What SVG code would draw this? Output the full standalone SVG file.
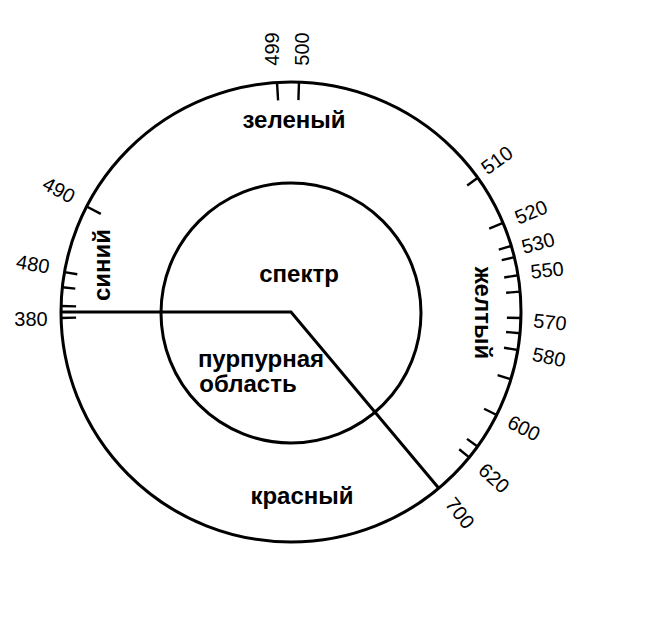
<svg xmlns="http://www.w3.org/2000/svg" width="650" height="643" viewBox="0 0 650 643">
<style>
.c{fill:none;stroke:#000;stroke-width:3}
.t{stroke:#000;stroke-width:2.4;stroke-linecap:butt}
.n{font-family:"Liberation Sans",Arial,sans-serif;font-size:20px;fill:#000;text-anchor:middle;dominant-baseline:central}
.b{font-family:"Liberation Sans",Arial,sans-serif;font-size:24px;font-weight:bold;fill:#000;text-anchor:middle}
</style>
<rect width="650" height="643" fill="#fff"/>
<g id="outer-circle"><circle class="c" cx="291" cy="312" r="230"/></g>
<g id="inner-circle"><circle class="c" cx="291" cy="313" r="130"/></g>
<g id="connectors">
<polyline class="c" points="61,312 291,312 438.8,488.2"/>
</g>
<g id="ticks">
<line class="t" x1="277" y1="82.4" x2="278.1" y2="100.4"/>
<line class="t" x1="299" y1="82.1" x2="298.4" y2="100.1"/>
<line class="t" x1="86.6" y1="206.5" x2="100.8" y2="213.9"/>
<line class="t" x1="64.5" y1="272.1" x2="77.3" y2="274.3"/>
<line class="t" x1="62.3" y1="287.2" x2="75.3" y2="288.6"/>
<line class="t" x1="61.1" y1="306" x2="76.1" y2="306.4"/>
<line class="t" x1="61.1" y1="318" x2="76.1" y2="317.6"/>
<line class="t" x1="477.8" y1="177.8" x2="467.2" y2="185.4"/>
<line class="t" x1="503" y1="222.9" x2="489.2" y2="228.7"/>
<line class="t" x1="511.3" y1="245.9" x2="498.8" y2="249.6"/>
<line class="t" x1="514.4" y1="257.1" x2="501.7" y2="260.2"/>
<line class="t" x1="518" y1="275.2" x2="504.2" y2="277.5"/>
<line class="t" x1="520.1" y1="291.6" x2="506.1" y2="292.8"/>
<line class="t" x1="520.9" y1="318" x2="506.9" y2="317.7"/>
<line class="t" x1="520" y1="333.2" x2="506.1" y2="332"/>
<line class="t" x1="517.8" y1="350" x2="504" y2="347.7"/>
<line class="t" x1="510.9" y1="379.2" x2="497.6" y2="375.2"/>
<line class="t" x1="496.7" y1="415" x2="484.1" y2="408.7"/>
<line class="t" x1="477.5" y1="446.5" x2="467" y2="438.9"/>
<line class="t" x1="469.2" y1="457.4" x2="459.2" y2="449.2"/>
</g>
<g id="scale-labels">
<text class="n" transform="translate(272,49) rotate(-90)">499</text>
<text class="n" transform="translate(302,49) rotate(-90)">500</text>
<text class="n" transform="translate(59,190) rotate(28)">490</text>
<text class="n" transform="translate(33,264) rotate(10)">480</text>
<text class="n" transform="translate(31,319)">380</text>
<text class="n" transform="translate(497,160) rotate(-36)">510</text>
<text class="n" transform="translate(531,212) rotate(-22)">520</text>
<text class="n" transform="translate(538,243) rotate(-15)">530</text>
<text class="n" transform="translate(547,270) rotate(-6)">550</text>
<text class="n" transform="translate(550,322) rotate(6)">570</text>
<text class="n" transform="translate(549,357) rotate(12)">580</text>
<text class="n" transform="translate(524,428) rotate(27)">600</text>
<text class="n" transform="translate(494,478) rotate(42)">620</text>
<text class="n" transform="translate(460,513) rotate(52)">700</text>
</g>
<g id="region-labels">
<text class="b" x="294" y="128">зеленый</text>
<text class="b" x="299" y="282">спектр</text>
<text class="b" x="261" y="367">пурпурная</text>
<text class="b" x="248" y="392">область</text>
<text class="b" x="302" y="504">красный</text>
<text class="b" transform="translate(110,265) rotate(-90)">синий</text>
<text class="b" transform="translate(475,313) rotate(90)">желтый</text>
</g>
</svg>
